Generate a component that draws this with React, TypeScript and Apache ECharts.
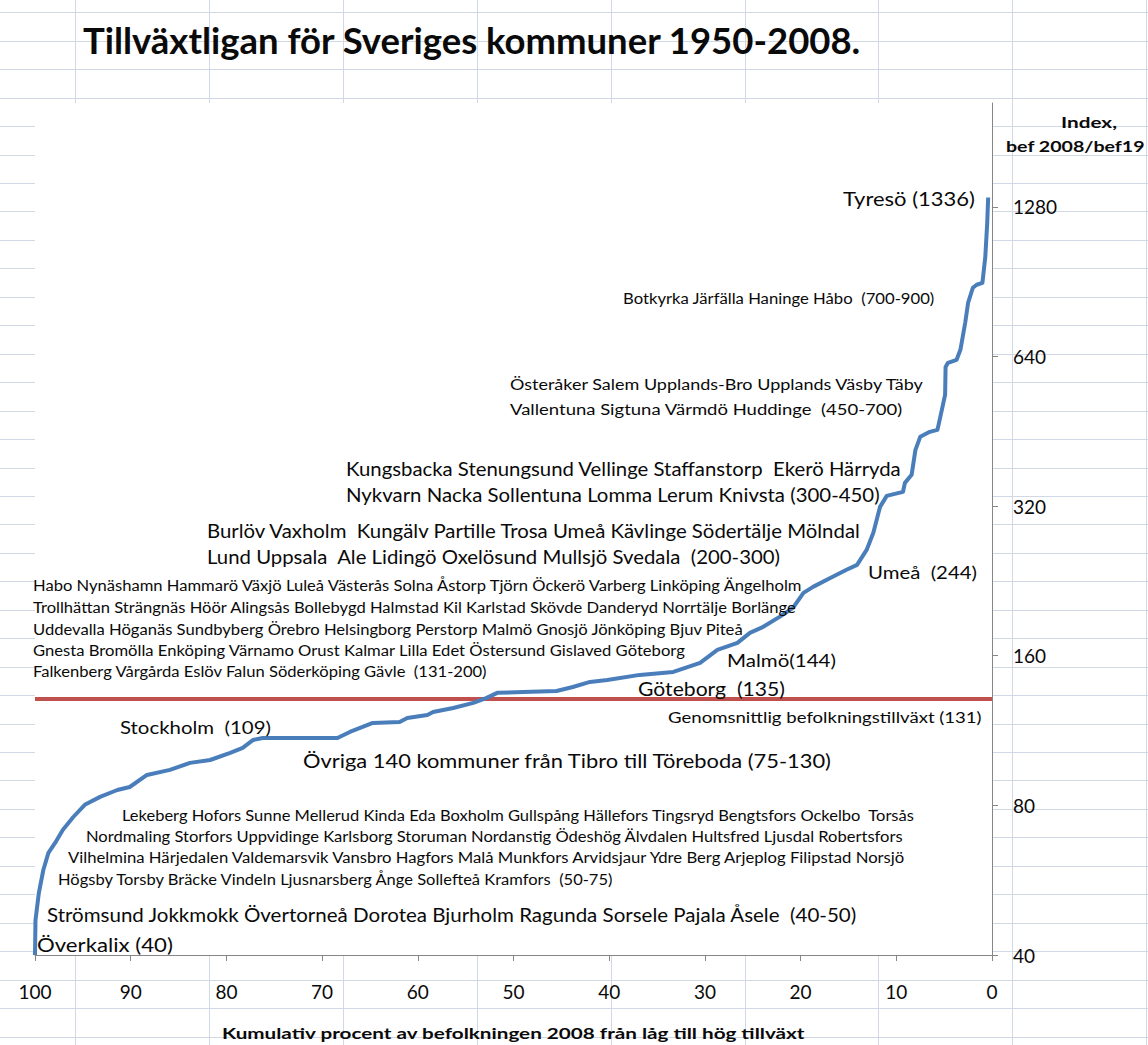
import React, { useEffect, useRef } from "react";
import * as echarts from "echarts";

const W = 1148;
const H = 1045;

// ---- data ----
// cumulative percent of the population 2008 (from low to high growth)
const cumPercent = [
  100, 99.95, 99.6, 99.13, 98.6, 97.9, 97.1, 96.0, 94.8, 93.2, 91.4, 90.1, 88.3, 85.9, 83.8,
  81.7, 79.6, 78.3, 77.2, 76.2, 68.4, 67.1, 64.7, 61.9, 61.1, 59.0, 58.4, 56.3, 54.2, 52.8,
  51.7, 49.0, 45.5, 43.8, 42.0, 40.2, 36.8, 33.3, 30.5, 28.7, 26.6, 25.3, 23.9, 22.2, 20.8,
  19.7, 18.7, 16.9, 15.2, 14.1, 13.1, 12.4, 11.7, 11.0, 9.3, 9.1, 8.4, 8.0, 7.5, 6.5,
  5.7, 5.4, 4.9, 4.85, 4.6, 3.7, 3.3, 2.8, 2.5, 2.0, 1.6, 1.0, 0.7, 0.5, 0.4,
];
// index, population 2008 / population 1950 (x100)
const growthIndex = [
  40, 47, 53.3, 59.3, 64.2, 67.2, 71.4, 75.8, 80.2, 83.2, 85.9, 87.1, 92.1, 94.3, 97.4,
  98.7, 102.0, 104.4, 108.3, 109.3, 109.3, 112.4, 117.2, 117.7, 119.9, 121.6, 123.3, 125.6, 128.6, 131.6,
  134.7, 135.3, 135.9, 138.4, 141.7, 143.0, 146.4, 148.4, 154.8, 164.4, 169.8, 177.8, 182.9, 191.5, 199.7,
  214.0, 220.1, 229.4, 238.2, 243.7, 261.2, 282.7, 318.8, 335.5, 341.7, 356.3, 369.8, 415.2, 441.0, 451.3,
  455.5, 483.7, 535.6, 609.7, 621.3, 630.0, 659.9, 748, 820, 879.6, 892, 900, 1015, 1188, 1336,
];
const averageIndex = 131;
const xTickValues = [100, 90, 80, 70, 60, 50, 40, 30, 20, 10, 0];
const yTickLabels = [40, 80, 160, 320, 640, 1280];
const yAxisTop = 2070;

const titleText = "Tillväxtligan för Sveriges kommuner 1950-2008.";
const xAxisTitle = "Kumulativ procent av befolkningen 2008 från låg till hög tillväxt";
const yAxisTitle1 = "Index,";
const yAxisTitle2 = "bef 2008/bef19";

// annotation texts
const annTexts = [
  "Tyresö (1336)",
  "Botkyrka Järfälla Haninge Håbo  (700-900)",
  "Österåker Salem Upplands-Bro Upplands Väsby Täby",
  "Vallentuna Sigtuna Värmdö Huddinge  (450-700)",
  "Kungsbacka Stenungsund Vellinge Staffanstorp  Ekerö Härryda",
  "Nykvarn Nacka Sollentuna Lomma Lerum Knivsta (300-450)",
  "Burlöv Vaxholm  Kungälv Partille Trosa Umeå Kävlinge Södertälje Mölndal",
  "Lund Uppsala  Ale Lidingö Oxelösund Mullsjö Svedala  (200-300)",
  "Umeå  (244)",
  "Habo Nynäshamn Hammarö Växjö Luleå Västerås Solna Åstorp Tjörn Öckerö Varberg Linköping Ängelholm",
  "Trollhättan Strängnäs Höör Alingsås Bollebygd Halmstad Kil Karlstad Skövde Danderyd Norrtälje Borlänge",
  "Uddevalla Höganäs Sundbyberg Örebro Helsingborg Perstorp Malmö Gnosjö Jönköping Bjuv Piteå",
  "Gnesta Bromölla Enköping Värnamo Orust Kalmar Lilla Edet Östersund Gislaved Göteborg",
  "Falkenberg Vårgårda Eslöv Falun Söderköping Gävle  (131-200)",
  "Malmö(144)",
  "Göteborg  (135)",
  "Genomsnittlig befolkningstillväxt (131)",
  "Stockholm  (109)",
  "Övriga 140 kommuner från Tibro till Töreboda (75-130)",
  "Lekeberg Hofors Sunne Mellerud Kinda Eda Boxholm Gullspång Hällefors Tingsryd Bengtsfors Ockelbo  Torsås",
  "Nordmaling Storfors Uppvidinge Karlsborg Storuman Nordanstig Ödeshög Älvdalen Hultsfred Ljusdal Robertsfors",
  "Vilhelmina Härjedalen Valdemarsvik Vansbro Hagfors Malå Munkfors Arvidsjaur Ydre Berg Arjeplog Filipstad Norsjö",
  "Högsby Torsby Bräcke Vindeln Ljusnarsberg Ånge Sollefteå Kramfors  (50-75)",
  "Strömsund Jokkmokk Övertorneå Dorotea Bjurholm Ragunda Sorsele Pajala Åsele  (40-50)",
  "Överkalix (40)",
];

// layout of the annotations: [left, right, centerY, fontSize]
const annLayout: number[][] = [
  [843, 975, 198, 20],
  [623, 935, 298, 16],
  [510, 925, 384, 16],
  [510, 903, 409, 16],
  [346, 902, 469, 19],
  [346, 880, 495, 19],
  [207, 862, 531, 19],
  [207, 781, 557, 19],
  [868, 977, 572, 18],
  [33, 806, 585, 15],
  [33, 797, 607, 15],
  [33, 744, 629, 15],
  [33, 686, 650, 15],
  [33, 488, 671, 15],
  [727, 836, 660, 18],
  [638, 785, 688, 19],
  [668, 982, 717, 15],
  [120, 271, 727, 18],
  [303, 833, 760, 20],
  [122, 916, 815, 15],
  [86, 904, 836, 15],
  [68, 908, 857, 15],
  [58, 615, 879, 15],
  [47, 858, 914, 19],
  [37, 173, 945, 19],
];

const FONT = "Lato";
const GRID_LEFT = 35;
const GRID_RIGHT = 992;
const GRID_TOP = 103;
const GRID_BOTTOM = 955;

const toLog = (v: number) => Math.log2(v / 40);

let measureCtx: CanvasRenderingContext2D | null = null;
function textWidth(text: string, size: number, bold: boolean) {
  if (!measureCtx) measureCtx = document.createElement("canvas").getContext("2d");
  if (!measureCtx) return text.length * size * 0.5;
  measureCtx.font = `${bold ? "bold " : ""}${size}px ${FONT}`;
  return measureCtx.measureText(text).width;
}

function makeText(text: string, left: number, right: number | null, y: number, size: number, bold: boolean, z = 10, sx?: number) {
  let scaleX = sx ?? 1;
  if (right !== null) {
    const w = textWidth(text, size, bold);
    scaleX = Math.max(0.7, Math.min(1.3, (right - left) / w));
  }
  return {
    type: "text",
    x: left,
    y,
    scaleX,
    z,
    silent: true,
    style: {
      text,
      fontSize: size,
      fontFamily: FONT,
      fontWeight: bold ? "bold" : "normal",
      fill: "#0a0a0a",
      align: "left",
      textAlign: "left",
      verticalAlign: "middle",
      textVerticalAlign: "middle",
    },
  };
}

export default function App() {
  const ref = useRef<HTMLDivElement>(null);

  useEffect(() => {
    document.body.style.margin = "0";
    document.body.style.overflow = "hidden";
    if (!ref.current) return;
    const chart = echarts.init(ref.current, null, { renderer: "svg" });

    const graphics: any[] = [];
    // spreadsheet background grid
    const lineColor = "#D0D7E5";
    for (let k = 0; k < 40; k++) {
      const y = Math.round(12.3 + 28.45 * k) + 0.5;
      if (y > H) break;
      graphics.push({
        type: "line",
        z: -20,
        silent: true,
        shape: { x1: 0, y1: y, x2: W, y2: y },
        style: { stroke: lineColor, lineWidth: 1 },
      });
    }
    for (let k = 0; k < 9; k++) {
      const x = Math.round(75 + 133.9 * k) + 0.5;
      if (x > W) break;
      graphics.push({
        type: "line",
        z: -20,
        silent: true,
        shape: { x1: x, y1: 0, x2: x, y2: H },
        style: { stroke: lineColor, lineWidth: 1 },
      });
    }
    // white plot area
    graphics.push({
      type: "rect",
      z: -10,
      silent: true,
      shape: { x: GRID_LEFT, y: GRID_TOP, width: GRID_RIGHT - GRID_LEFT, height: GRID_BOTTOM - GRID_TOP },
      style: { fill: "#ffffff" },
    });

    // title & axis titles
    graphics.push(makeText(titleText, 83, 862, 40, 36, true));
    graphics.push(makeText(xAxisTitle, 222, 806, 1033, 16, true));
    graphics.push(makeText(yAxisTitle1, 1061, 1117, 122, 16, true));
    graphics.push(makeText(yAxisTitle2, 1006, 1145, 146, 16, true));

    annTexts.forEach((t, i) => {
      const [l, r, y, s] = annLayout[i];
      graphics.push(makeText(t, l, r, y, s, false));
    });

    const lineData = cumPercent.map((x, i) => [x, toLog(growthIndex[i])]);
    const avgData = [
      [100, toLog(averageIndex)],
      [0, toLog(averageIndex)],
    ];

    chart.setOption({
      animation: false,
      backgroundColor: "transparent",
      textStyle: { fontFamily: FONT },
      grid: {
        left: GRID_LEFT,
        right: W - GRID_RIGHT,
        top: GRID_TOP,
        bottom: H - GRID_BOTTOM,
        containLabel: false,
      },
      xAxis: {
        type: "value",
        min: 0,
        max: 100,
        interval: 10,
        inverse: true,
        axisLine: { show: true, lineStyle: { color: "#868686", width: 1 } },
        axisTick: { show: true, length: 6, lineStyle: { color: "#868686" }, customValues: xTickValues },
        axisLabel: { fontSize: 19, color: "#0a0a0a", margin: 27, fontFamily: FONT, customValues: xTickValues },
        splitLine: { show: false },
      },
      yAxis: {
        type: "value",
        position: "right",
        min: 0,
        max: toLog(yAxisTop),
        axisLine: { show: true, lineStyle: { color: "#868686", width: 1 } },
        axisTick: {
          show: true,
          length: 6,
          lineStyle: { color: "#868686" },
          customValues: yTickLabels.map(toLog),
        },
        axisLabel: {
          fontSize: 19,
          color: "#0a0a0a",
          margin: 21,
          fontFamily: FONT,
          customValues: yTickLabels.map(toLog),
          formatter: (v: number) => String(Math.round(40 * Math.pow(2, v))),
        },
        splitLine: { show: false },
      },
      graphic: { elements: graphics },
      series: [
        {
          type: "line",
          name: "Genomsnitt",
          data: avgData,
          showSymbol: false,
          symbol: "none",
          z: 2,
          lineStyle: { color: "#C0504D", width: 4 },
        },
        {
          type: "line",
          name: "Kommuner",
          data: lineData,
          showSymbol: false,
          symbol: "none",
          z: 3,
          lineStyle: { color: "#4A7EBB", width: 4, join: "round" },
        },
      ],
    });

    return () => chart.dispose();
  }, []);

  return <div ref={ref} style={{ width: W, height: H }} />;
}
